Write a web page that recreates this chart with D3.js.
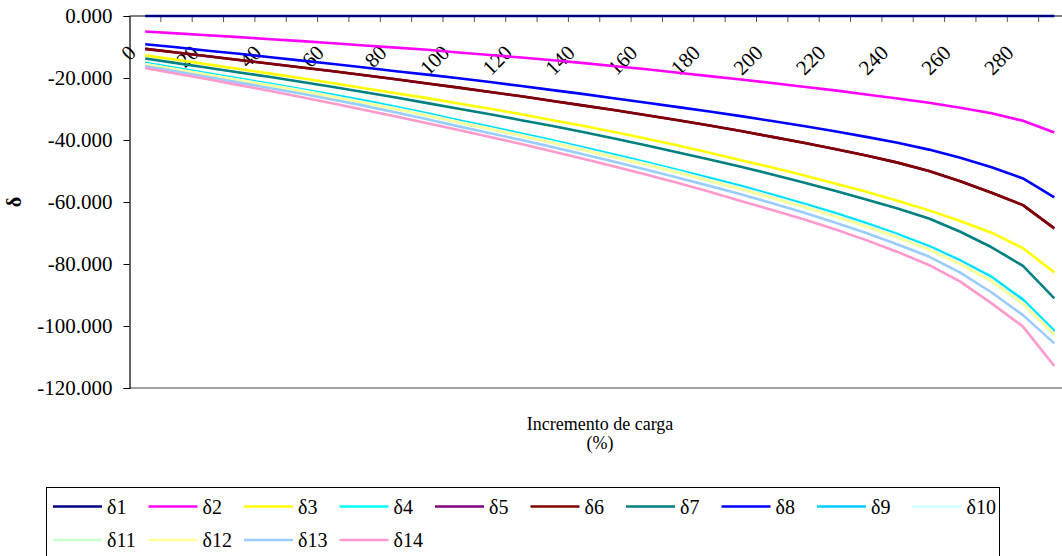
<!DOCTYPE html>
<html>
<head>
<meta charset="utf-8">
<script src="https://d3js.org/d3.v7.min.js"></script>
<style>
  html, body { margin: 0; padding: 0; background: #fff; }
  svg { display: block; font-family: "Liberation Serif", "Times New Roman", serif; }
</style>
</head>
<body>
<svg id="chart" width="1062" height="556"></svg>
<script>
// Load increment (%) for each step
const categories = [0, 10, 20, 30, 40, 50, 60, 70, 80, 90, 100, 110, 120, 130, 140,
  150, 160, 170, 180, 190, 200, 210, 220, 230, 240, 250, 260, 270, 280, 290];
const categoryLabels = [0, 20, 40, 60, 80, 100, 120, 140, 160, 180, 200, 220, 240, 260, 280];
const yTicks = [0, -20, -40, -60, -80, -100, -120];

const seriesNames = ["δ1", "δ2", "δ3", "δ4", "δ5", "δ6", "δ7", "δ8", "δ9", "δ10", "δ11", "δ12", "δ13", "δ14"];
const seriesColors = ["#000080", "#FF00FF", "#FFFF00", "#00FFFF", "#800080", "#800000", "#008080",
  "#0000FF", "#00CCFF", "#CCFFFF", "#CCFFCC", "#FFFF99", "#99CCFF", "#FF99CC"];

// Displacements per node
const delta1 = [0, 0, 0, 0, 0, 0, 0, 0, 0, 0, 0, 0, 0, 0, 0, 0, 0, 0, 0, 0, 0, 0, 0, 0, 0, 0, 0, 0, 0, 0];
const delta2 = [-5.0, -5.6, -6.2, -6.8, -7.5, -8.1, -8.8, -9.5, -10.2, -10.9, -11.8, -12.6, -13.4, -14.3, -15.2,
  -16.2, -17.2, -18.3, -19.4, -20.5, -21.6, -22.8, -24.0, -25.3, -26.6, -28.0, -29.6, -31.4, -33.8, -37.6];
const delta3 = [-12.7, -14.1, -15.6, -17.1, -18.6, -20.1, -21.7, -23.3, -24.9, -26.5, -28.2, -29.9, -31.7, -33.6, -35.5,
  -37.5, -39.6, -41.8, -44.1, -46.5, -48.9, -51.4, -54.0, -56.7, -59.6, -62.7, -66.1, -69.9, -74.9, -82.7];
const delta4 = [-15.1, -16.8, -18.5, -20.2, -21.9, -23.6, -25.4, -27.3, -29.3, -31.4, -33.6, -35.7, -37.9, -40.1, -42.4,
  -44.8, -47.2, -49.7, -52.2, -54.8, -57.6, -60.5, -63.5, -66.8, -70.3, -74.2, -78.8, -84.1, -91.4, -101.5];
const delta5 = [-10.6, -11.8, -13.0, -14.2, -15.4, -16.6, -17.8, -19.1, -20.4, -21.8, -23.1, -24.5, -25.9, -27.4, -28.9,
  -30.4, -32.0, -33.6, -35.3, -37.1, -39.0, -40.9, -42.9, -45.0, -47.3, -50.0, -53.3, -57.0, -61.0, -68.5];
const delta6 = [-10.6, -11.8, -13.0, -14.2, -15.4, -16.6, -17.8, -19.1, -20.4, -21.8, -23.1, -24.5, -25.9, -27.4, -28.9,
  -30.4, -32.0, -33.6, -35.3, -37.1, -39.0, -40.9, -42.9, -45.0, -47.3, -50.0, -53.3, -57.0, -61.0, -68.5];
const delta7 = [-13.7, -15.2, -16.7, -18.2, -19.7, -21.3, -22.9, -24.6, -26.3, -28.1, -29.9, -31.7, -33.6, -35.5, -37.5,
  -39.6, -41.8, -44.0, -46.3, -48.6, -51.1, -53.7, -56.4, -59.2, -62.1, -65.3, -69.6, -74.6, -80.6, -91.1];
const delta8 = [-9.1, -10.1, -11.2, -12.2, -13.3, -14.4, -15.5, -16.6, -17.8, -18.9, -20.1, -21.3, -22.6, -23.9, -25.2,
  -26.6, -28.0, -29.4, -30.8, -32.3, -33.9, -35.5, -37.2, -39.0, -40.9, -43.1, -45.7, -48.8, -52.4, -58.5];
const delta9 = [-15.3, -17.0, -18.7, -20.4, -22.1, -23.8, -25.6, -27.5, -29.5, -31.6, -33.8, -35.9, -38.1, -40.3, -42.6,
  -45.0, -47.4, -49.9, -52.4, -55.0, -57.8, -60.7, -63.8, -67.1, -70.6, -74.5, -79.1, -84.5, -91.8, -101.9];
const delta10 = [-15.5, -17.2, -18.9, -20.6, -22.3, -24.0, -25.9, -27.8, -29.8, -31.9, -34.1, -36.2, -38.4, -40.6, -42.9,
  -45.3, -47.7, -50.2, -52.8, -55.4, -58.2, -61.1, -64.2, -67.5, -71.0, -74.9, -79.6, -85.0, -92.4, -102.4];
const delta11 = [-15.7, -17.4, -19.1, -20.8, -22.5, -24.3, -26.2, -28.1, -30.1, -32.2, -34.4, -36.5, -38.7, -41.0, -43.3,
  -45.7, -48.1, -50.6, -53.2, -55.9, -58.7, -61.6, -64.7, -68.0, -71.5, -75.4, -80.1, -85.6, -93.0, -102.9];
const delta12 = [-15.6, -17.3, -19.0, -20.7, -22.4, -24.2, -26.1, -28.0, -30.0, -32.1, -34.3, -36.4, -38.6, -40.9, -43.2,
  -45.6, -48.0, -50.5, -53.1, -55.8, -58.6, -61.5, -64.6, -67.9, -71.4, -75.3, -80.0, -85.4, -92.8, -102.7];
const delta13 = [-16.1, -17.9, -19.7, -21.5, -23.3, -25.1, -27.0, -29.0, -31.1, -33.3, -35.6, -37.8, -40.0, -42.3, -44.7,
  -47.1, -49.6, -52.2, -54.8, -57.5, -60.4, -63.4, -66.6, -70.0, -73.7, -77.6, -82.8, -89.2, -96.5, -105.6];
const delta14 = [-16.8, -18.6, -20.4, -22.3, -24.2, -26.2, -28.2, -30.3, -32.4, -34.6, -36.8, -39.0, -41.3, -43.7, -46.1,
  -48.6, -51.2, -53.9, -56.7, -59.7, -62.6, -65.6, -68.8, -72.3, -76.1, -80.3, -85.7, -92.7, -100.2, -112.9];

const seriesValues = [delta1, delta2, delta3, delta4, delta5, delta6, delta7,
  delta8, delta9, delta10, delta11, delta12, delta13, delta14];

const FONT = "'Liberation Serif', 'Times New Roman', serif";
const svg = d3.select("#chart").attr("font-family", FONT);

const plotLeft = 129.5, plotTop = 16, plotBottom = 388, plotRight = 1070;

const x = d3.scaleBand().domain(categories).range([plotLeft, plotRight]).padding(0);
const cx = c => x(c) + x.bandwidth() / 2;
const y = d3.scaleLinear().domain([-120, 0]).range([plotBottom, plotTop]);

// Plot area lower border
svg.append("line")
  .attr("x1", plotLeft).attr("x2", plotRight)
  .attr("y1", plotBottom).attr("y2", plotBottom)
  .attr("stroke", "#808080").attr("stroke-width", 1.5);

// Value axis
const yAxis = svg.append("g")
  .attr("transform", `translate(${plotLeft},0)`)
  .call(d3.axisLeft(y).tickValues(yTicks).tickFormat(d => d.toFixed(3)).tickSize(6).tickPadding(11))
  .attr("font-family", FONT)
  .attr("font-size", 21);
yAxis.select(".domain").attr("stroke", "#000").attr("stroke-width", 1.2);
yAxis.selectAll(".tick line").attr("stroke", "#000");
yAxis.selectAll(".tick text").attr("fill", "#000");

// Category axis along the zero line
const xAxis = svg.append("g").attr("font-size", 21);
xAxis.append("line")
  .attr("x1", plotLeft).attr("x2", plotRight)
  .attr("y1", y(0)).attr("y2", y(0))
  .attr("stroke", "#000").attr("stroke-width", 1.2);
xAxis.selectAll("line.tick")
  .data(categories.slice(1))
  .join("line")
  .attr("class", "tick")
  .attr("x1", d => x(d)).attr("x2", d => x(d))
  .attr("y1", y(0)).attr("y2", y(0) + 6)
  .attr("stroke", "#555").attr("stroke-width", 1);
xAxis.selectAll("text")
  .data(categoryLabels)
  .join("text")
  .attr("transform", d => `translate(${cx(d) - 8},${y(0) + 38}) rotate(-45)`)
  .attr("text-anchor", "end")
  .attr("fill", "#000")
  .text(d => d);

// Series lines
const line = d3.line()
  .x((d, i) => cx(categories[i]))
  .y(d => y(d));

svg.append("g")
  .selectAll("path")
  .data(seriesValues)
  .join("path")
  .attr("d", d => line(d))
  .attr("fill", "none")
  .attr("stroke", (d, i) => seriesColors[i])
  .attr("stroke-width", 2.6)
  .attr("stroke-linejoin", "round");

// Axis titles
svg.append("text")
  .attr("transform", "translate(21,202) rotate(-90)")
  .attr("text-anchor", "middle")
  .attr("font-size", 20)
  .attr("font-weight", "bold")
  .text("δ");

const xTitle = svg.append("text")
  .attr("text-anchor", "middle")
  .attr("font-size", 18);
xTitle.append("tspan").attr("x", 600).attr("y", 430).text("Incremento de carga");
xTitle.append("tspan").attr("x", 600).attr("y", 449).text("(%)");

// Legend
const legend = svg.append("g");
legend.append("rect")
  .attr("x", 46.5).attr("y", 487.5)
  .attr("width", 953).attr("height", 100)
  .attr("fill", "#fff").attr("stroke", "#000").attr("stroke-width", 1);

const perRow = 10, colStep = 95.5, rowStep = 33.5;
const items = legend.selectAll("g.item")
  .data(seriesNames)
  .join("g")
  .attr("class", "item")
  .attr("transform", (d, i) => `translate(${53 + (i % perRow) * colStep},${506.5 + Math.floor(i / perRow) * rowStep})`);
items.append("line")
  .attr("x1", 0).attr("x2", 49)
  .attr("y1", 0).attr("y2", 0)
  .attr("stroke", (d, i) => seriesColors[i])
  .attr("stroke-width", 2.6);
items.append("text")
  .attr("x", 54).attr("y", 0)
  .attr("dy", "0.35em")
  .attr("font-size", 20)
  .text(d => d);
</script>
</body>
</html>
